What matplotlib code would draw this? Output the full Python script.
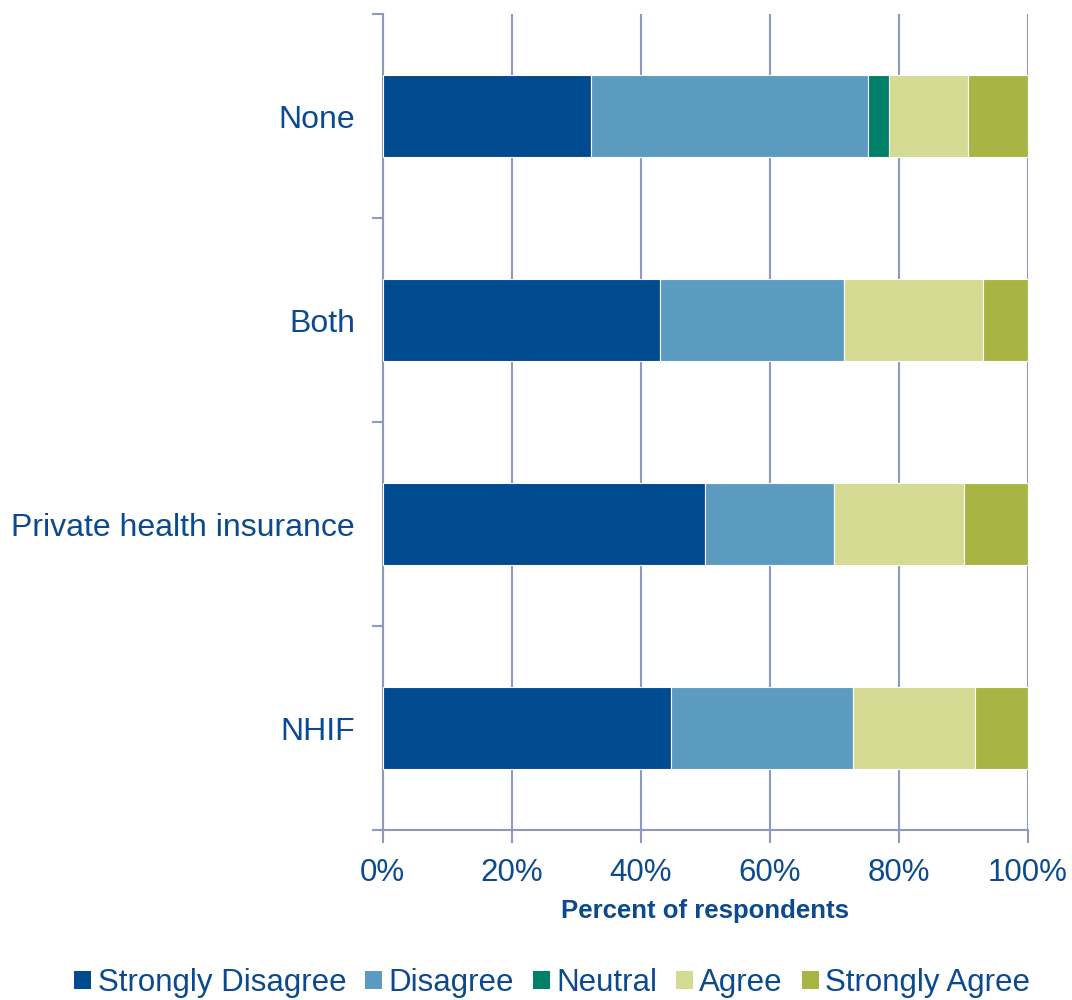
import numpy as np
import matplotlib.pyplot as plt
from matplotlib.patches import Patch

plt.rcParams['font.family'] = ['Liberation Sans', 'DejaVu Sans']

# Data (percent of respondents), bottom-to-top order
categories = ['NHIF', 'Private health insurance', 'Both', 'None']
strongly_disagree = [44.7, 50.0, 42.9, 32.2]
disagree = [28.2, 20.0, 28.6, 43.0]
neutral = [0.0, 0.0, 0.0, 3.2]
agree = [18.9, 20.0, 21.5, 12.3]
strongly_agree = [8.2, 10.0, 7.0, 9.3]

series = [strongly_disagree, disagree, neutral, agree, strongly_agree]
labels = ['Strongly Disagree', 'Disagree', 'Neutral', 'Agree', 'Strongly Agree']
colors = ['#004A8F', '#5A9BBF', '#007F69', '#D5DB93', '#A8B444']
text_color = '#0B4A8E'
axis_color = '#8E9ABD'

fig = plt.figure(figsize=(10.72, 10), dpi=100)
ax = fig.add_axes([0.357, 0.17, 0.602, 0.816])

y = np.arange(len(categories))
left = np.zeros(len(categories))
for vals, lab, col in zip(series, labels, colors):
    ax.barh(y, vals, left=left, height=0.4, color=col, edgecolor='white',
            linewidth=0.8, label=lab, zorder=3)
    left += np.array(vals)

ax.set_xlim(0, 100)
ax.set_ylim(-0.5, len(categories) - 0.5)

ax.set_xticks(np.arange(0, 101, 20))
ax.set_xticklabels([f'{v}%' for v in range(0, 101, 20)])
ax.xaxis.grid(True, color=axis_color, linewidth=1.5, zorder=0)

ax.set_yticks(y)
ax.set_yticklabels(categories)
ax.set_yticks(np.arange(-0.5, len(categories), 1), minor=True)
ax.tick_params(axis='y', which='major', length=0, pad=20)
ax.tick_params(axis='y', which='minor', length=8, width=1.5, color=axis_color)
ax.tick_params(axis='x', length=9, width=1.5, color=axis_color, pad=11)
ax.tick_params(axis='y', labelsize=23, labelcolor=text_color)
ax.tick_params(axis='x', labelsize=22.5, labelcolor=text_color)

for s in ['top', 'right']:
    ax.spines[s].set_visible(False)
for s in ['left', 'bottom']:
    ax.spines[s].set_color(axis_color)
    ax.spines[s].set_linewidth(1.5)

ax.set_xlabel('Percent of respondents', fontsize=18.5, fontweight='bold',
              color=text_color, labelpad=8)

handles = [Patch(facecolor=c, label=l) for l, c in zip(labels, colors)]
fig.legend(handles=handles, loc='center', bbox_to_anchor=(0.515, 0.017),
           ncol=5, frameon=False, fontsize=22.5, labelcolor=text_color,
           handlelength=0.55, handleheight=0.55, handletextpad=0.2,
           columnspacing=0.6)

plt.savefig('out.png', dpi=100)
